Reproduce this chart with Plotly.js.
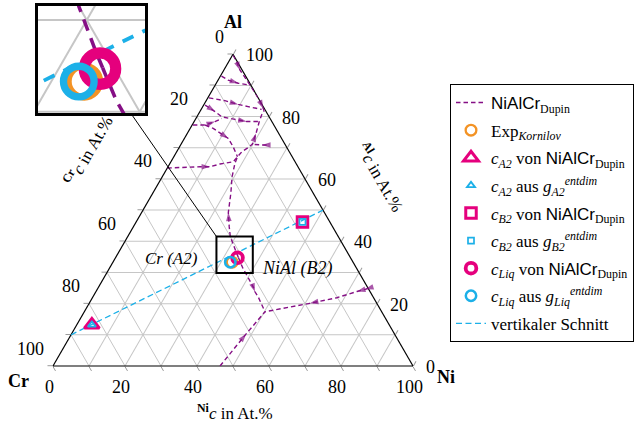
<!DOCTYPE html>
<html><head><meta charset="utf-8">
<script src="https://cdn.plot.ly/plotly-3.0.1.min.js"></script>
<style>html,body{margin:0;padding:0;background:#fff}#chart{width:643px;height:427px}</style>
</head><body><div id="chart"></div>
<script>
// ---------------- DATA (compositions in At.%, each point = [Al, Cr, Ni]) ----------------
const tickValues = [0, 10, 20, 30, 40, 50, 60, 70, 80, 90, 100];
const tickLabelValues = [0, 20, 40, 60, 80, 100];

const expKornilov = [[33.3, 33.6, 33.1]];
const a2Dupin   = [[13.2, 82.6, 4.2]];
const a2Entdim  = [[13.2, 82.6, 4.2]];
const b2Dupin   = [[46.2, 7.6, 46.2]];
const b2Entdim  = [[46.2, 7.6, 46.2]];
const liqDupin  = [[34.7, 31.4, 33.9]];
const liqEntdim = [[33.3, 34.1, 32.6]];
const sectionLine = [[10, 90, 0], [50, 0, 50]];

// NiAlCr (Dupin) liquidus valleys, listed in the direction of the arrows
const dupinApexToE1 = [[99.7,0.1,0.2],[97.6,0.2,2.2],[94.9,0.6,4.5],[90.1,0.2,9.7],[85.9,0.0,14.1],[82.6,0.3,17.1],[81.9,0.4,17.7]];
const dupinApexToE1Arrows = [2, 5];
const dupinSaddleToE1 = [[34.8,31.1,34.1],[36.3,30.9,32.8],[41.5,30.0,28.5],[44.7,28.7,26.6],[49.2,26.7,24.1],[55.4,22.9,21.7],[60.7,19.9,19.4],[65.1,16.9,18.0],[67.1,15.2,17.7],[68.7,13.2,18.1],[70.1,10.7,19.2],[71.1,9.1,19.8],[74.6,6.3,19.1],[78.4,3.5,18.1],[80.5,1.8,17.7],[81.9,0.4,17.7]];
const dupinSaddleToE1Arrows = [4, 12];
const dupinSaddleToE2 = [[34.8,31.1,34.1],[31.2,31.6,37.2],[29.2,31.6,39.2],[25.4,31.7,42.9],[23.8,32.0,44.2],[22.2,31.9,45.9],[18.5,32.3,49.2],[17.4,32.4,50.2]];
const dupinSaddleToE2Arrows = [4];
const dupinNiAlSideToE2 = [[24.9,0.0,75.1],[24.6,1.0,74.4],[23.9,3.6,72.5],[21.9,10.2,67.9],[20.1,18.6,61.3],[18.5,26.8,54.7],[17.4,32.4,50.2]];
const dupinNiAlSideToE2Arrows = [1, 2, 4];
const dupinCrNiSideToE2 = [[0.0,53.6,46.4],[10.3,41.2,48.5],[17.4,32.4,50.2]];
const dupinCrNiSideToE2Arrows = [1];
const dupinValleyA = [[93.0,6.7,0.3],[91.7,5.5,2.8],[90.7,3.2,6.1],[90.1,0.2,9.7]];
const dupinValleyAArrows = [2];
const dupinValleyB = [[86.0,13.7,0.3],[85.1,9.7,5.2],[83.9,6.6,9.5],[83.2,4.2,12.6],[82.3,0.9,16.8]];
const dupinValleyBArrows = [2];
const dupinValleyC = [[83.7,15.9,0.4],[81.6,14.2,4.2],[79.9,13.1,7.0],[79.1,9.9,11.0],[78.4,7.0,14.6],[78.4,3.5,18.1]];
const dupinValleyCArrows = [1, 4];
const dupinValleyD = [[77.3,22.5,0.2],[77.3,19.1,3.6],[78.4,15.8,5.8],[79.4,13.4,7.2]];
const dupinValleyDArrows = [2];
const dupinValleyE = [[77.3,19.1,3.6],[76.2,17.4,6.4],[73.0,14.8,12.2],[70.3,14.8,14.9],[67.1,15.2,17.7]];
const dupinValleyEArrows = [2];
const dupinValleyF = [[63.5,36.5,0.0],[63.9,27.2,8.9],[63.9,24.4,11.7],[64.8,21.2,14.0],[65.5,17.2,17.3],[67.1,15.2,17.7]];
const dupinValleyFArrows = [2];
const dupinValleyG = [[70.9,5.2,23.9],[70.9,6.5,22.6],[71.1,9.1,19.8]];
const dupinValleyGArrows = [1];

// ---------------- GEOMETRY / STYLE ----------------
const PAGE_W = 643, PAGE_H = 427;
const SQ3_2 = Math.sqrt(3) / 2;
const TRI = { left: 53, right: 413, base: 366 };
const SIDE = TRI.right - TRI.left;
const INSET_CENTER = [35.7, 31.7, 32.6];
const INSET_SPAN = 10.1;
const INSET_PX = { left: 38, top: 6, size: 107 };

const PURPLE = '#850f85', MAGENTA = '#e5007d', CYAN = '#1cb0e8', ORANGE = '#f39325', GRID = '#c6c6c6';
const SERIF = 'Liberation Serif', SANS = 'Liberation Sans';

function toXY(p) { return [(p[2] + p[0] / 2) / 100, (p[0] * SQ3_2) / 100]; }
function toPx(p) { const q = toXY(p); return [TRI.left + q[0] * SIDE, TRI.base - q[1] * SIDE]; }
const fx = x => x / PAGE_W, fy = y => 1 - y / PAGE_H;

function tern(points, extra) {
  return Object.assign({
    type: 'scatterternary', hoverinfo: 'skip', cliponaxis: false,
    a: points.map(p => p ? p[0] : null),
    b: points.map(p => p ? p[1] : null),
    c: points.map(p => p ? p[2] : null)
  }, extra);
}
function cart(points, extra) {
  return Object.assign({
    type: 'scatter', xaxis: 'x', yaxis: 'y', hoverinfo: 'skip', showlegend: false,
    x: points.map(p => p ? toXY(p)[0] : null),
    y: points.map(p => p ? toXY(p)[1] : null)
  }, extra);
}

const dupinLines = [
  [dupinApexToE1, dupinApexToE1Arrows], [dupinSaddleToE1, dupinSaddleToE1Arrows],
  [dupinSaddleToE2, dupinSaddleToE2Arrows], [dupinNiAlSideToE2, dupinNiAlSideToE2Arrows],
  [dupinCrNiSideToE2, dupinCrNiSideToE2Arrows], [dupinValleyA, dupinValleyAArrows],
  [dupinValleyB, dupinValleyBArrows], [dupinValleyC, dupinValleyCArrows],
  [dupinValleyD, dupinValleyDArrows], [dupinValleyE, dupinValleyEArrows],
  [dupinValleyF, dupinValleyFArrows], [dupinValleyG, dupinValleyGArrows]
];
const dupinAll = [];
dupinLines.forEach(([pts]) => { dupinAll.push(...pts, null); });
const arrowPts = [], arrowSize = [];
dupinLines.forEach(([pts, idx]) => idx.forEach(i => { arrowPts.push(pts[i - 1], pts[i]); arrowSize.push(0, 9); }));

const insetGrid = [];
tickValues.filter(v => v > 0 && v < 100).forEach(v => {
  insetGrid.push([v, 100 - v, 0], [v, 0, 100 - v], null);
  insetGrid.push([100 - v, v, 0], [0, v, 100 - v], null);
  insetGrid.push([100 - v, 0, v], [0, 100 - v, v], null);
});

const nmDupin = '<span style="font-family:' + SANS + '">NiAlCr</span><sub>Dupin</sub>';
const nm = {
  dupin: nmDupin,
  exp: 'Exp<sub><i>Kornilov</i></sub>',
  a2d: '<i>c<sub>A2</sub></i> von ' + nmDupin,
  a2e: '<i>c<sub>A2</sub></i> aus <i>g<sub>A2</sub><sup>entdim</sup></i>',
  b2d: '<i>c<sub>B2</sub></i> von ' + nmDupin,
  b2e: '<i>c<sub>B2</sub></i> aus <i>g<sub>B2</sub><sup>entdim</sup></i>',
  lqd: '<i>c<sub>Liq</sub></i> von ' + nmDupin,
  lqe: '<i>c<sub>Liq</sub></i> aus <i>g<sub>Liq</sub><sup>entdim</sup></i>',
  sec: 'vertikaler Schnitt'
};

const mk = {
  exp: { symbol: 'circle-open', size: 10.7, color: ORANGE, lw: 2.3 },
  a2d: { symbol: 'triangle-up-open', size: 13, color: MAGENTA, lw: 3 },
  a2e: { symbol: 'triangle-up-open', size: 7, color: CYAN, lw: 1.8 },
  b2d: { symbol: 'square-open', size: 10.5, color: MAGENTA, lw: 3 },
  b2e: { symbol: 'square-open', size: 6, color: CYAN, lw: 1.7 },
  lqd: { symbol: 'circle-open', size: 10.7, color: MAGENTA, lw: 3.8 },
  lqe: { symbol: 'circle-open', size: 10.4, color: CYAN, lw: 2.5 }
};
function marker(s, k) { return { symbol: s.symbol, size: s.size * k, color: s.color, line: { color: s.color, width: s.lw * k } }; }

// ---------------- INSET WINDOW ----------------
const ic = toXY(INSET_CENTER);
const half = INSET_SPAN / 200;
const xr = [ic[0] - half, ic[0] + half], yr = [ic[1] - half, ic[1] + half];
const ZOOM = INSET_PX.size / (INSET_SPAN / 100 * SIDE);
const box = { l: TRI.left + xr[0] * SIDE, r: TRI.left + xr[1] * SIDE, t: TRI.base - yr[1] * SIDE, b: TRI.base - yr[0] * SIDE };

// ---------------- TRACES ----------------
const traces = [
  tern(sectionLine, { name: nm.sec, mode: 'lines', legendrank: 9, legendgroup: 'g9', line: { color: CYAN, width: 1.3, dash: '6px,3.5px' } }),
  tern(dupinAll, { name: nm.dupin, mode: 'lines', legendrank: 1, legendgroup: 'g1', connectgaps: false, line: { color: PURPLE, width: 1.4, dash: '4.5px,3px' } }),
  tern(arrowPts, { mode: 'markers', showlegend: false, marker: { symbol: 'arrow', size: arrowSize, color: PURPLE, angleref: 'previous', line: { width: 0 } } }),
  tern(expKornilov, { name: nm.exp, mode: 'markers', legendrank: 2, legendgroup: 'g2', marker: marker(mk.exp, 1) }),
  tern(a2Dupin, { name: nm.a2d, mode: 'markers', legendrank: 3, legendgroup: 'g3', marker: marker(mk.a2d, 1) }),
  tern(b2Dupin, { name: nm.b2d, mode: 'markers', legendrank: 5, legendgroup: 'g5', marker: marker(mk.b2d, 1) }),
  tern(liqDupin, { name: nm.lqd, mode: 'markers', legendrank: 7, legendgroup: 'g7', marker: marker(mk.lqd, 1) }),
  tern(a2Entdim, { name: nm.a2e, mode: 'markers', legendrank: 4, legendgroup: 'g4', marker: marker(mk.a2e, 1) }),
  tern(b2Entdim, { name: nm.b2e, mode: 'markers', legendrank: 6, legendgroup: 'g6', marker: marker(mk.b2e, 1) }),
  tern(liqEntdim, { name: nm.lqe, mode: 'markers', legendrank: 8, legendgroup: 'g8', marker: marker(mk.lqe, 1) }),
  // inset (magnified view of the boxed region)
  cart(insetGrid, { mode: 'lines', line: { color: GRID, width: 2 } }),
  cart(sectionLine, { mode: 'lines', line: { color: CYAN, width: 1.3 * ZOOM, dash: '12px,10px' } }),
  cart(dupinAll, { mode: 'lines', connectgaps: false, line: { color: PURPLE, width: 1.2 * ZOOM, dash: '12px,8px' } }),
  cart(expKornilov, { mode: 'markers', marker: marker(mk.exp, ZOOM) }),
  cart(liqDupin, { mode: 'markers', marker: marker(mk.lqd, ZOOM) }),
  cart(liqEntdim, { mode: 'markers', marker: marker(mk.lqe, ZOOM) })
];

// ---------------- ANNOTATIONS ----------------
const annotations = [];
function ann(p, text, o) {
  annotations.push(Object.assign({ x: fx(p[0]), y: fy(p[1]), xref: 'paper', yref: 'paper', text: text, showarrow: false,
    xanchor: 'center', yanchor: 'middle', font: { family: SERIF, size: 18, color: '#000' } }, o));
}
tickLabelValues.forEach(v => {
  ann(toPx([v, 0, 100 - v]), String(v), { xanchor: 'left', xshift: 11, yshift: -1 });
  ann(toPx([100 - v, v, 0]), String(v), { xanchor: 'right', xshift: -7, yshift: 17.5 });
  ann(toPx([0, 100 - v, v]), String(v), { xshift: -3.7, yshift: -20.7 });
});
ann(toPx([100, 0, 0]), '<b>Al</b>', { yshift: 32 });
ann(toPx([0, 100, 0]), '<b>Cr</b>', { xshift: -34.7, yshift: -15 });
ann(toPx([0, 0, 100]), '<b>Ni</b>', { xshift: 33, yshift: -11 });
ann(toPx([50, 0, 50]), '<sup><b>Al</b></sup><i>c</i> in At.%', { textangle: 60, xshift: 58, yshift: 33, font: { family: SERIF, size: 17 } });
ann(toPx([50, 50, 0]), '<sup><b>Cr</b></sup><i>c</i> in At.%', { textangle: -60, xshift: -55, yshift: 60, font: { family: SERIF, size: 17 } });
ann(toPx([0, 50, 50]), '<sup><b>Ni</b></sup><i>c</i> in At.%', { xshift: 2, yshift: -46, font: { family: SERIF, size: 17 } });
ann([171, 258], '<i>Cr (A2)</i>', { font: { family: SERIF, size: 17 } });
ann([297, 268], '<i>NiAl (B2)</i>', { font: { family: SERIF, size: 18 } });

// ---------------- LAYOUT ----------------
function axisStyle() {
  return {
    title: { text: '' },
    tickmode: 'linear', tick0: 0, dtick: 10, ticks: 'outside', ticklen: 5, tickwidth: 1, tickcolor: '#9a9a9a',
    showticklabels: false, showgrid: true, gridcolor: GRID, gridwidth: 1,
    showline: true, linecolor: '#000', linewidth: 1.2, layer: 'below traces'
  };
}
const yCenter = fy(TRI.base - SIDE * SQ3_2 / 2);
const layout = {
  width: PAGE_W, height: PAGE_H,
  margin: { l: 0, r: 0, t: 0, b: 0, pad: 0, autoexpand: false },
  paper_bgcolor: '#fff', plot_bgcolor: '#fff',
  font: { family: SERIF, size: 16, color: '#000' },
  showlegend: true,
  legend: { x: fx(450), y: fy(84), xanchor: 'left', yanchor: 'top', bordercolor: '#000', borderwidth: 1,
    bgcolor: '#fff', font: { family: SERIF, size: 17, color: '#000' }, traceorder: 'grouped', tracegroupgap: 2.5 },
  ternary: {
    sum: 100, bgcolor: '#fff',
    domain: { x: [fx(TRI.left), fx(TRI.right)], y: [yCenter - 0.38, yCenter + 0.38] },
    aaxis: axisStyle(), baxis: axisStyle(), caxis: axisStyle()
  },
  xaxis: { domain: [fx(INSET_PX.left), fx(INSET_PX.left + INSET_PX.size)], range: xr, showgrid: false, zeroline: false,
    showticklabels: false, ticks: '', showline: true, mirror: true, linecolor: '#000', linewidth: 3, fixedrange: true },
  yaxis: { domain: [fy(INSET_PX.top + INSET_PX.size), fy(INSET_PX.top)], range: yr, showgrid: false, zeroline: false,
    showticklabels: false, ticks: '', showline: true, mirror: true, linecolor: '#000', linewidth: 3, fixedrange: true },
  shapes: [
    { type: 'rect', xref: 'paper', yref: 'paper', x0: fx(box.l), x1: fx(box.r), y0: fy(box.b), y1: fy(box.t), line: { color: '#000', width: 2 } },
    { type: 'line', xref: 'paper', yref: 'paper', x0: fx(132), y0: fy(INSET_PX.top + INSET_PX.size + 2), x1: fx(box.l), y1: fy(box.t), line: { color: '#000', width: 1 } }
  ],
  annotations: annotations
};

Plotly.newPlot('chart', traces, layout, { displayModeBar: false, staticPlot: true });
</script>
</body></html>
